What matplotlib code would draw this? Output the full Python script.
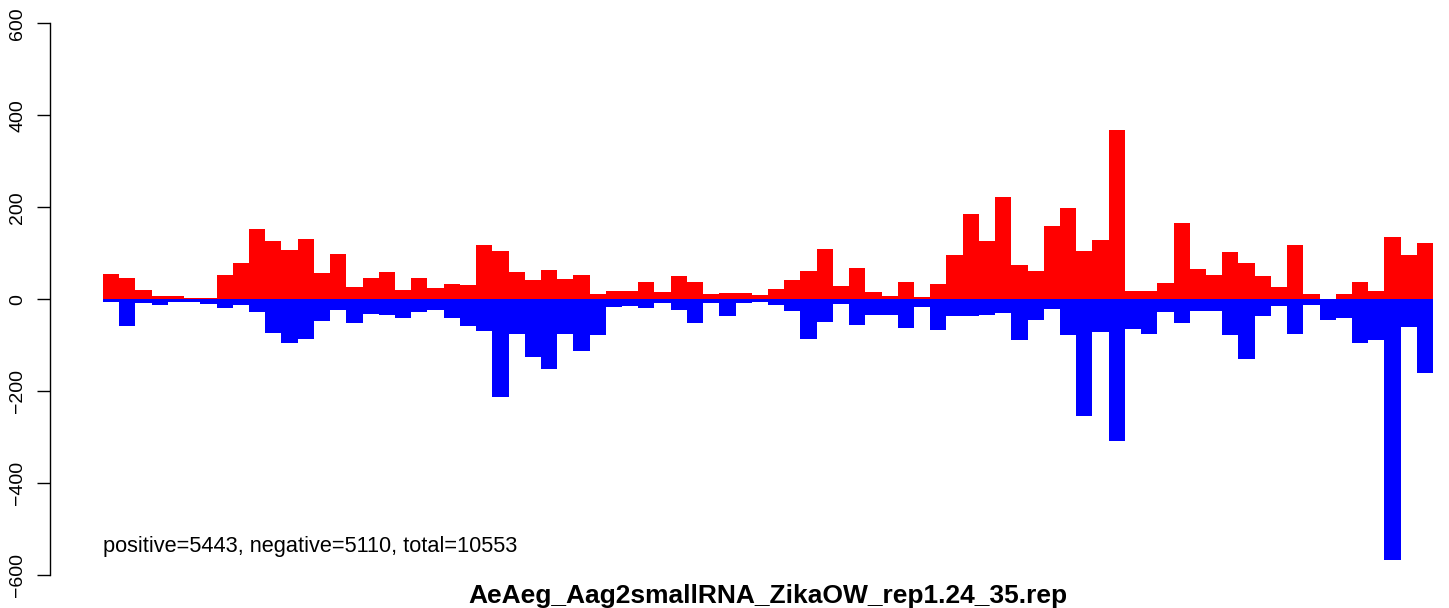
import numpy as np
import matplotlib
matplotlib.use('Agg')
import matplotlib.pyplot as plt

plt.rcParams['font.family'] = ['Liberation Sans', 'DejaVu Sans']

# read counts per bin (positive strand up, negative strand down)
positive = [54, 46, 20, 7, 7, 2, 2, 52, 78, 152,
            126, 107, 131, 57, 98, 26, 46, 59, 20, 46,
            24, 33, 30, 118, 105, 59, 41, 63, 44, 52,
            11, 17, 17, 37, 15, 50, 37, 11, 13, 13,
            9, 22, 41, 61, 109, 28, 68, 15, 7, 37,
            4, 33, 96, 185, 126, 222, 74, 61, 159, 198,
            105, 129, 368, 17, 17, 35, 166, 65, 52, 102,
            78, 50, 26, 118, 11, 0, 11, 37, 17, 135,
            96, 122]
negative = [6, 58, 7, 12, 6, 6, 10, 19, 12, 28,
            73, 95, 86, 47, 23, 52, 32, 34, 41, 28,
            23, 41, 58, 69, 213, 76, 126, 152, 76, 113,
            78, 17, 15, 19, 8, 23, 52, 8, 36, 8,
            6, 12, 25, 86, 49, 10, 56, 34, 34, 62,
            17, 67, 36, 36, 34, 30, 89, 45, 21, 78,
            254, 71, 309, 65, 76, 28, 52, 25, 25, 78,
            130, 36, 15, 76, 12, 45, 41, 95, 89, 566,
            60, 160]
yticks = [-600, -400, -200, 0, 200, 400, 600]
summary = "positive=5443, negative=5110, total=10553"
title = "AeAeg_Aag2smallRNA_ZikaOW_rep1.24_35.rep"

W, H = 1449, 608
fig = plt.figure(figsize=(W / 100, H / 100), dpi=100)

# axes placed in pixels: spine at x=50, y range 600..-600 -> 23.3..575.3 px
top_px, bot_px = 23.3, 575.3
ax = fig.add_axes([50 / W, 1 - bot_px / H, (W - 50) / W, (bot_px - top_px) / H])

n = len(positive)
x = np.arange(n)
bw = 16.22
ax.bar(x, positive, width=1.0, align='edge', color='#ff0000', linewidth=0)
ax.bar(x, -np.array(negative), width=1.0, align='edge', color='#0000ff', linewidth=0)

ax.set_xlim(-53 / bw, (W - 103) / bw)
ax.set_ylim(-600, 600)

for s in ['top', 'right', 'bottom']:
    ax.spines[s].set_visible(False)
ax.spines['left'].set_linewidth(1.0)
ax.spines['left'].set_bounds(-600, 600)
ax.set_xticks([])
ax.set_yticks(yticks)
ax.set_yticklabels([str(t).replace('-', '\u2212') for t in yticks],
                   rotation=90, va='center', fontsize=14)
ax.tick_params(axis='y', direction='out', length=9.5, width=1.0, pad=7.5)

ax.text(0, (299.3 - 552) / 0.46, summary, ha='left', va='baseline', fontsize=15.7)

fig.text(768 / W, 1 - 603 / H, title, ha='center', va='baseline',
         fontsize=19, fontweight='bold')

fig.savefig('out.png', dpi=100)
